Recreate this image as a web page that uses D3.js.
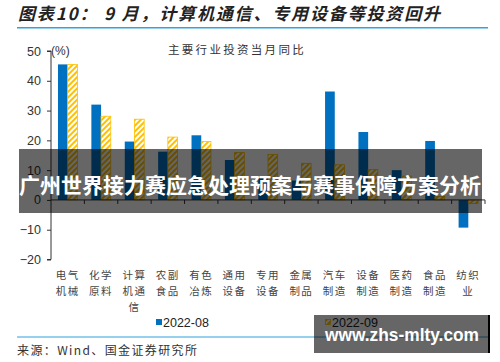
<!DOCTYPE html>
<html>
<head>
<meta charset="utf-8">
<script src="https://cdn.jsdelivr.net/npm/d3@7"></script>
<style>
    body { margin: 0; background: #fff; }
    svg { display: block; font-family: "Noto Sans CJK SC", "Liberation Sans", Arial, sans-serif; }
</style>
</head>
<body>
<svg id="chart" width="500" height="362"></svg>
<script>
const categories = ["电气机械", "化学原料", "计算机通信", "农副食品", "有色冶炼", "通用设备", "专用设备", "金属制品", "汽车制造", "设备制造", "医药制造", "食品制造", "纺织业"];
const seriesNames = ["2022-08", "2022-09"];
const aug = [45.5, 32, 19.6, 16.2, 21.7, 13.4, 7.5, 6.5, 36.4, 22.8, 10, 19.8, -9.3];
const sep = [45.5, 28.1, 27.1, 21.1, 19.6, 15.9, 15.3, 12.3, 11.8, 10.2, 8, 1.2, -1.2];
const yTicks = [-20, -10, 0, 10, 20, 30, 40, 50];

const blue = "#0070c0";
const gold = "#ffc000";
const lineBlue = "#2da3e0";
const axisColor = "#333";

const svg = d3.select("#chart");
const plotLeft = 51, plotRight = 485, plotTop = 51, plotBottom = 259.5;

const x = d3.scaleBand().domain(categories).range([plotLeft, plotRight]);
const sub = d3.scaleBand().domain(seriesNames).range([0, x.bandwidth()]).paddingOuter(0.72);
const y = d3.scaleLinear().domain([-20, 50]).range([plotBottom, plotTop]);

// hatch for the second series
const defs = svg.append("defs");
const pat = defs.append("pattern")
    .attr("id", "hatch")
    .attr("patternUnits", "userSpaceOnUse")
    .attr("width", 4)
    .attr("height", 4)
    .attr("patternTransform", "rotate(45)");
pat.append("rect").attr("width", 4).attr("height", 4).attr("fill", "#fff");
pat.append("rect").attr("width", 2).attr("height", 4).attr("fill", gold);

// header
svg.append("text")
    .text("图表10： 9 月，计算机通信、专用设备等投资回升")
    .attr("x", 18)
    .attr("y", 20)
    .attr("font-size", 17)
    .attr("font-weight", "bold")
    .attr("font-style", "italic")
    .attr("fill", "#222")
    .attr("textLength", 422)
    .attr("lengthAdjust", "spacing");
svg.append("line")
    .attr("x1", 17).attr("x2", 488)
    .attr("y1", 27.7).attr("y2", 27.7)
    .attr("stroke", lineBlue)
    .attr("stroke-width", 1.5);

svg.append("text")
    .text("主要行业投资当月同比")
    .attr("x", 237)
    .attr("y", 54)
    .attr("text-anchor", "middle")
    .attr("font-size", 11.5)
    .attr("letter-spacing", 2.3)
    .attr("fill", "#333");

svg.append("text")
    .text("(%)")
    .attr("x", 51)
    .attr("y", 55)
    .attr("font-family", "Liberation Sans, Arial, sans-serif")
    .attr("font-size", 12)
    .attr("fill", axisColor);

// bars
const rows = categories.map((c, i) => ({ cat: c, vals: [aug[i], sep[i]] }));
const groups = svg.append("g").selectAll("g")
    .data(rows)
    .enter()
    .append("g")
    .attr("transform", d => "translate(" + x(d.cat) + ",0)");

groups.selectAll("rect")
    .data(d => d.vals.map((v, k) => ({ key: seriesNames[k], v: v })))
    .enter()
    .append("rect")
    .attr("x", d => sub(d.key))
    .attr("width", sub.bandwidth())
    .attr("y", d => y(Math.max(0, d.v)))
    .attr("height", d => Math.abs(y(d.v) - y(0)))
    .attr("fill", d => d.key === seriesNames[0] ? blue : "url(#hatch)")
    .attr("stroke", d => d.key === seriesNames[0] ? "none" : gold)
    .attr("stroke-width", 0.8);

// y axis
const yAxis = svg.append("g")
    .attr("transform", "translate(" + plotLeft + ",0)")
    .call(d3.axisLeft(y).tickValues(yTicks).tickSize(4).tickPadding(6));
yAxis.select(".domain").attr("stroke", axisColor).attr("d", "M-4," + y(-20) + "H0V" + y(50) + "H-4");
yAxis.selectAll("line").attr("stroke", axisColor);
yAxis.selectAll("text")
    .attr("font-family", "Liberation Sans, Arial, sans-serif")
    .attr("font-size", 12.5)
    .attr("fill", axisColor);

// x axis line with ticks on category borders
const xAxis = svg.append("g").attr("transform", "translate(0," + y(0) + ")");
xAxis.append("line")
    .attr("x1", plotLeft).attr("x2", plotRight)
    .attr("stroke", axisColor);
const borders = categories.slice(1).map(c => x(c)).concat([plotRight]);
xAxis.selectAll("line.tk")
    .data(borders)
    .enter()
    .append("line")
    .attr("class", "tk")
    .attr("x1", d => d)
    .attr("x2", d => d)
    .attr("y1", 0).attr("y2", 4)
    .attr("stroke", axisColor);

// category labels, two characters per line
const labels = svg.append("g").selectAll("text")
    .data(categories)
    .enter()
    .append("text")
    .attr("x", d => x(d) + x.bandwidth() / 2)
    .attr("y", 279)
    .attr("text-anchor", "middle")
    .attr("font-size", 10.5)
    .attr("letter-spacing", 1.5)
    .attr("fill", "#444");
labels.selectAll("tspan")
    .data(d => d.match(/.{1,2}/g))
    .enter()
    .append("tspan")
    .attr("x", function () { return d3.select(this.parentNode).attr("x"); })
    .attr("dy", (d, i) => i === 0 ? 0 : 16)
    .text(d => d);

// legend
const legend = svg.append("g").attr("font-family", "Liberation Sans, Arial, sans-serif");
legend.append("rect").attr("x", 156).attr("y", 319).attr("width", 6).attr("height", 6).attr("fill", blue);
legend.append("text").text(seriesNames[0]).attr("x", 163).attr("y", 326.5).attr("font-size", 12.5).attr("fill", "#222");
legend.append("rect").attr("x", 325.5).attr("y", 319.5).attr("width", 5).attr("height", 5)
    .attr("fill", "url(#hatch)").attr("stroke", gold).attr("stroke-width", 0.8);
legend.append("text").text(seriesNames[1]).attr("x", 332).attr("y", 326.5).attr("font-size", 12.5).attr("fill", "#222");

// footer
svg.append("line")
    .attr("x1", 17).attr("x2", 488)
    .attr("y1", 337).attr("y2", 337)
    .attr("stroke", lineBlue)
    .attr("stroke-width", 1.2);
svg.append("text")
    .text("来源：Wind、国金证券研究所")
    .attr("x", 17)
    .attr("y", 355)
    .attr("font-size", 12)
    .attr("fill", "#333")
    .attr("textLength", 180)
    .attr("lengthAdjust", "spacing");

// overlay banner
svg.append("rect")
    .attr("x", 19).attr("y", 149)
    .attr("width", 463).attr("height", 64)
    .attr("fill", "rgba(0,0,0,0.6)");
svg.append("text")
    .text("广州世界接力赛应急处理预案与赛事保障方案分析")
    .attr("x", 250)
    .attr("y", 193)
    .attr("text-anchor", "middle")
    .attr("font-size", 21)
    .attr("font-weight", "bold")
    .attr("fill", "#fff")
    .attr("textLength", 462)
    .attr("lengthAdjust", "spacingAndGlyphs");

// watermark
svg.append("rect")
    .attr("x", 314).attr("y", 315)
    .attr("width", 176).attr("height", 38)
    .attr("fill", "rgba(0,0,0,0.6)");
svg.append("line")
    .attr("x1", 489).attr("x2", 489)
    .attr("y1", 315).attr("y2", 353)
    .attr("stroke", "#000")
    .attr("stroke-width", 2);
svg.append("text")
    .text("www.zhs-mlty.com")
    .attr("x", 325)
    .attr("y", 341)
    .attr("font-family", "Liberation Sans, Arial, sans-serif")
    .attr("font-size", 18)
    .attr("font-weight", "bold")
    .attr("fill", "#fff")
    .attr("textLength", 154)
    .attr("lengthAdjust", "spacingAndGlyphs");
</script>
</body>
</html>
